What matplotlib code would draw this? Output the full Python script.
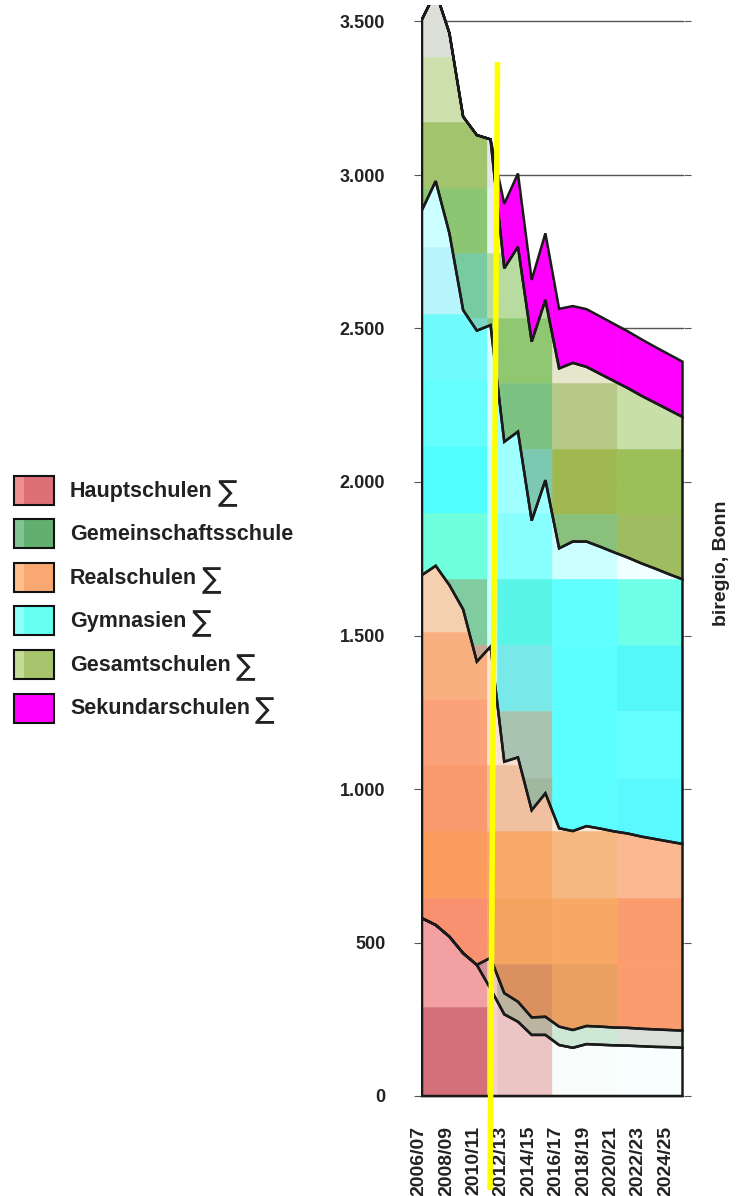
import matplotlib
matplotlib.use('Agg')
import matplotlib.pyplot as plt
from matplotlib.patches import Rectangle, Polygon
from matplotlib.collections import PatchCollection
from matplotlib.lines import Line2D
import matplotlib.transforms as mtransforms
import numpy as np

# ---------------- data ----------------
years = ['2006/07', '2007/08', '2008/09', '2009/10', '2010/11', '2011/12', '2012/13',
         '2013/14', '2014/15', '2015/16', '2016/17', '2017/18', '2018/19', '2019/20',
         '2020/21', '2021/22', '2022/23', '2023/24', '2024/25', '2025/26']
tick_labels = years[0:19:2]

hauptschulen = [579, 557, 519, 465, 427, 349, 266, 242, 199, 199, 166, 157, 169, 167, 165, 164, 162, 160, 159, 157]
gemeinschaftsschule = [0, 0, 0, 0, 0, 101, 69, 65, 57, 59, 60, 58, 59, 59, 58, 58, 57, 57, 56, 56]
realschulen = [1118, 1170, 1145, 1120, 988, 1014, 754, 796, 675, 728, 646, 648, 651, 645, 639, 633, 626, 620, 614, 608]
gymnasien = [1189, 1253, 1146, 975, 1078, 1047, 1042, 1061, 943, 1020, 912, 943, 927, 918, 909, 899, 890, 881, 871, 862]
gesamtschulen = [621, 617, 652, 630, 637, 605, 565, 602, 583, 587, 586, 582, 569, 563, 558, 552, 546, 540, 535, 529]
sekundarschulen = [0, 0, 0, 0, 0, 0, 210, 239, 201, 217, 194, 185, 188, 187, 186, 185, 184, 182, 181, 180]

series_names = ['Hauptschulen', 'Gemeinschaftsschule', 'Realschulen',
                'Gymnasien', 'Gesamtschulen', 'Sekundarschulen']
series_suffix = ['∑', '', '∑', '∑', '∑', '∑']
y_ticks = [0, 500, 1000, 1500, 2000, 2500, 3000, 3500]
y_tick_labels = ['0', '500', '1.000', '1.500', '2.000', '2.500', '3.000', '3.500']
source_text = 'biregio, Bonn'

# ---------------- styles: tile mosaics (rows top->bottom, 5 columns) ----------------
col_edges = [0, 4.75, 5.48, 9.5, 14.25, 19]
tiles_haupt = [['#F2A0A2', '#F8D8D8', '#F0C8C8', '#F8F8F0', '#F8FCFC'],
               ['#D47079', '#F0D0D0', '#ECC4C4', '#F8FCFA', '#F8FFFF']]
tiles_gemein = [['#D49098', '#F0C8C8', '#BCB4A0', '#CDE8D5', '#DCE0DA']]
tiles_real = [['#F5D0B0', '#FFE0D0', '#FFE0D0', '#F5E8D8', '#F5E8D8'],
              ['#F8B080', '#FFE4D4', '#FFE4D4', '#F5E8D8', '#F5E8D8'],
              ['#FCA27A', '#FFE4D4', '#F8E0D0', '#F5E8D8', '#F5E8D8'],
              ['#F89A6E', '#F0C0A0', '#F0C0A0', '#F5E8D8', '#F5E8D8'],
              ['#FA9C5C', '#F8A868', '#F8A868', '#F5B880', '#FCB890'],
              ['#F99070', '#F5A460', '#F5A460', '#F8A864', '#FA9C6E'],
              ['#F99070', '#DB9060', '#DB9060', '#EAA060', '#FA9C6E']]
tiles_gym = [['#CCFFFF', '#D8FFFF', '#D8FFFF', '#D8FFFF', '#D8FFFF'],
             ['#B8F4FC', '#D8FFFF', '#D8FFFF', '#D8FFFF', '#D8FFFF'],
             ['#70FCFC', '#D8FFFF', '#D8FFFF', '#D8FFFF', '#D8FFFF'],
             ['#66FFFF', '#D8FFFF', '#A0FFFF', '#F0FFFF', '#F0FFFF'],
             ['#50FFFF', '#C8FFFF', '#A0FFFF', '#F0FFFF', '#F0FFFF'],
             ['#6EFFDC', '#C8FFFF', '#88FFFF', '#CCFFFF', '#F0FFFF'],
             ['#80CCA0', '#C8FFFF', '#58F5E8', '#60FFFF', '#70FFE8'],
             ['#C8A890', '#D0FFFF', '#78E8E8', '#5CFFFF', '#55F8F8'],
             ['#F0C0A0', '#D0FFFF', '#A8C4B0', '#5CFFFF', '#66FFFF'],
             ['#F0C0A0', '#D0FFFF', '#A0B8A0', '#5CFFFF', '#5AF8FF']]
tiles_gesamt = [['#DCE0D8', '#E6E6F0', '#E6E6F0', '#E4E8DC', '#E4E8DC'],
                ['#CEDFAE', '#E6E6F0', '#E6E6F0', '#DCE6C8', '#DCE6C8'],
                ['#A2C46C', '#E6E6F0', '#E6E6F0', '#D0E0B0', '#D0E0B0'],
                ['#8DC673', '#E6F0F0', '#E6F0F0', '#C8DCA8', '#C8DCA8'],
                ['#78CAA0', '#B8DCA0', '#B8DCA0', '#E6E6CC', '#E0E8C8'],
                ['#78D8C8', '#8FC870', '#8FC870', '#E6E6CC', '#C8E0A8'],
                ['#78D8C8', '#7BC283', '#7BC283', '#B8C888', '#C8E0A8'],
                ['#78D8C8', '#7CC8B0', '#7CC8B0', '#9FB850', '#9CC058'],
                ['#78D8C8', '#88C07C', '#88C07C', '#88C07C', '#A0BC60']]
tiles_sek = [['#FF00FF'] * 5]
all_tiles = [tiles_haupt, tiles_gemein, tiles_real, tiles_gym, tiles_gesamt, tiles_sek]

legend_colors = [('#EE9090', '#DC7076'), ('#84C494', '#62B070'), ('#FFC090', '#F8A870'),
                 ('#8CFFF8', '#66FFF4'), ('#C4DC98', '#A8C46C'), ('#FF00FF', '#FF00FF')]

FONT = ['Liberation Sans', 'DejaVu Sans']
TXT = '#222222'
plt.rcParams['font.family'] = FONT

W, H = 741, 1196
fig = plt.figure(figsize=(W / 100, H / 100), dpi=100)


def fx(px):
    return px / W


def fy(py):
    return 1 - py / H


X_PX0, X_PX1 = 422.0, 682.5
Y_PX0, Y_PX3000 = 1096.0, 175.0
xl = (-0.1, 19.1)
yl = (-6, 3553)


def dx2px(v):
    return X_PX0 + v * (X_PX1 - X_PX0) / 19


def dy2px(v):
    return Y_PX0 - v * (Y_PX0 - Y_PX3000) / 3000


lpx, rpx = dx2px(xl[0]), dx2px(xl[1])
tpx, bpx = dy2px(yl[1]), dy2px(yl[0])
ax = fig.add_axes([lpx / W, 1 - bpx / H, (rpx - lpx) / W, (bpx - tpx) / H])
ax.set_xlim(*xl)
ax.set_ylim(*yl)
for s in ax.spines.values():
    s.set_visible(False)

# grid
ax.set_yticks(y_ticks)
ax.set_yticklabels(y_tick_labels, fontsize=13, fontweight='bold', color=TXT)
ax.yaxis.grid(True, color='#555555', lw=1.0, zorder=0)
ax.set_axisbelow(True)
ax.tick_params(axis='y', which='both', left=True, right=True, length=5, width=0.8,
               color='#555555', pad=20.5, direction='out')
ax.set_xticks(np.arange(0, 19, 2))
ax.set_xticklabels(tick_labels, rotation=90, fontsize=14, fontweight='bold', color=TXT,
                   ha='center', va='top')
ax.tick_params(axis='x', length=0, pad=20)
off = mtransforms.ScaledTranslation(-3 / 100, 0, fig.dpi_scale_trans)
for lab in ax.get_xticklabels():
    lab.set_transform(lab.get_transform() + off)

# stacked tiled areas
values = [hauptschulen, gemeinschaftsschule, realschulen, gymnasien, gesamtschulen, sekundarschulen]
x = np.arange(len(years))
cum = np.zeros(len(x))
for vals, tiles in zip(values, all_tiles):
    lower = cum.copy()
    upper = cum + np.array(vals, dtype=float)
    cum = upper
    verts = list(zip(x, upper)) + list(zip(x[::-1], lower[::-1]))
    clip_poly = Polygon(verts, closed=True, transform=ax.transData)
    ymin, ymax = lower.min(), upper.max()
    nrows = len(tiles)
    row_edges = np.linspace(ymax, ymin, nrows + 1)
    rects, cols = [], []
    for r in range(nrows):
        for c in range(5):
            rects.append(Rectangle((col_edges[c], row_edges[r + 1]),
                                   col_edges[c + 1] - col_edges[c],
                                   row_edges[r] - row_edges[r + 1]))
            cols.append(tiles[r][c])
    pc = PatchCollection(rects, facecolors=cols, edgecolors=cols, linewidths=0.4, zorder=1)
    ax.add_collection(pc)
    pc.set_clip_path(clip_poly)
    outline = Polygon(verts, closed=True, fill=False, edgecolor='#1a1a1a', lw=1.8,
                      joinstyle='miter', zorder=3)
    ax.add_patch(outline)

# legend (manual)
renderer = fig.canvas.get_renderer()
for i, (name, suf, (lc, bc)) in enumerate(zip(series_names, series_suffix, legend_colors)):
    ytop = 476 + 43.5 * i
    x0, wpx, hpx = 14, 40, 29
    fig.add_artist(Rectangle((fx(x0), fy(ytop + hpx)), wpx / W, hpx / H,
                             transform=fig.transFigure, facecolor=bc, edgecolor='none'))
    fig.add_artist(Rectangle((fx(x0), fy(ytop + hpx)), 10 / W, hpx / H,
                             transform=fig.transFigure, facecolor=lc, edgecolor='none'))
    fig.add_artist(Rectangle((fx(x0), fy(ytop + hpx)), wpx / W, hpx / H,
                             transform=fig.transFigure, facecolor='none',
                             edgecolor='#111111', lw=1.5))
    t = fig.text(fx(70), fy(ytop + hpx / 2 + 1), name, fontsize=15.5, fontweight='bold',
                 color=TXT, ha='left', va='center')
    if suf:
        bb = t.get_window_extent(renderer=renderer)
        fig.text(fx(bb.x1 + 5), fy(ytop + hpx / 2 + 2.5), suf, fontsize=21, fontweight='normal',
                 color=TXT, ha='left', va='center', family=['DejaVu Sans'])

fig.text(fx(722), fy(563), source_text, rotation=90, fontsize=14, fontweight='bold',
         color=TXT, ha='center', va='center')

# yellow marker line
fig.add_artist(Line2D([fx(497.5), fx(490)], [fy(62), fy(1190)], transform=fig.transFigure,
                      color='#FFFF00', lw=4, solid_capstyle='butt', zorder=10))

fig.savefig('out.png', dpi=100)
